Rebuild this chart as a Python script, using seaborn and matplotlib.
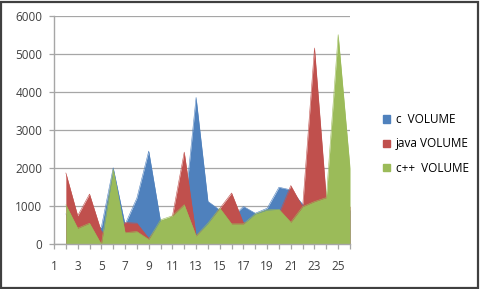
import numpy as np
import pandas as pd
import matplotlib
matplotlib.use("Agg")
import matplotlib.pyplot as plt
import seaborn as sns
from matplotlib.patches import Rectangle, Patch

# ---- data ----
categories = list(range(2, 27))
c_volume = [800, 300, 400, 450, 2010, 520, 1216, 2450, 600, 700, 800, 3860, 1128,
            900, 700, 996, 816, 947, 1500, 1430, 1050, 1000, 1200, 1000, 900]
java_volume = [1877, 750, 1320, 330, 300, 573, 555, 160, 500, 740, 2423, 230, 480,
               940, 1348, 560, 600, 700, 800, 1544, 980, 5160, 1200, 1000, 1000]
cpp_volume = [1040, 423, 555, 0, 1965, 308, 335, 130, 643, 749, 1040, 220, 555,
              952, 537, 537, 800, 903, 920, 580, 990, 1123, 1228, 5510, 2000]
series_names = ["c  VOLUME", "java VOLUME", "c++  VOLUME"]
y_ticks = [0, 1000, 2000, 3000, 4000, 5000, 6000]
x_tick_positions = list(range(1, 27))
x_tick_labels = [str(v) if v % 2 == 1 else "" for v in x_tick_positions]

colors = ["#4F81BD", "#C0504D", "#9BBB59"]

sns.set_theme(style="white")
plt.rcParams["font.family"] = ["Open Sans", "DejaVu Sans"]

df = pd.DataFrame({"cat": categories, series_names[0]: c_volume,
                   series_names[1]: java_volume, series_names[2]: cpp_volume})

fig = plt.figure(figsize=(4.8, 2.89), dpi=100)
fig.patch.set_facecolor("white")
ax = fig.add_axes([54/480, 1-244.3/289, (350-54)/480, (244.3-16)/289])
ax.set_facecolor("white")

for name, col in zip(series_names, colors):
    ax.fill_between(df["cat"], 0, df[name], color=col, linewidth=0, zorder=2)
    sns.lineplot(data=df, x="cat", y=name, ax=ax, color=col, linewidth=0.4,
                 legend=False, zorder=2)

ax.set_xlim(1, 26)
ax.set_ylim(0, 6000)
ax.set_yticks(y_ticks)
ax.set_yticklabels([str(v) for v in y_ticks])
ax.set_xticks(x_tick_positions)
ax.set_xticklabels(x_tick_labels)
ax.set_xlabel("")
ax.set_ylabel("")

ax.grid(axis="y", color="#A6A6A6", linewidth=0.9, zorder=0)
ax.grid(axis="x", visible=False)
ax.set_axisbelow(True)

for s in ["top", "right"]:
    ax.spines[s].set_visible(False)
for s in ["left", "bottom"]:
    ax.spines[s].set_color("#A6A6A6")
    ax.spines[s].set_linewidth(1.0)
    ax.spines[s].set_zorder(3)

ax.tick_params(axis="both", which="major", labelsize=8.5, labelcolor="#404040",
               color="#A6A6A6", length=3.5, width=0.9, direction="out")
ax.tick_params(axis="y", pad=5, left=True)
ax.tick_params(axis="x", pad=8, bottom=True)

handles = [Patch(facecolor=c, edgecolor=c) for c in colors]
fig.legend(handles, series_names, loc="center left", bbox_to_anchor=(0.786, 0.502),
           frameon=False, fontsize=8.5, handlelength=0.55, handleheight=0.55,
           handletextpad=0.5, labelspacing=0.95, borderpad=0, labelcolor="#000000")

fig.patches.append(Rectangle((1/480, 1/289), 477/480, 286/289, transform=fig.transFigure,
                             fill=False, edgecolor="#404040", linewidth=1.6))

fig.savefig("out.png", dpi=100)
